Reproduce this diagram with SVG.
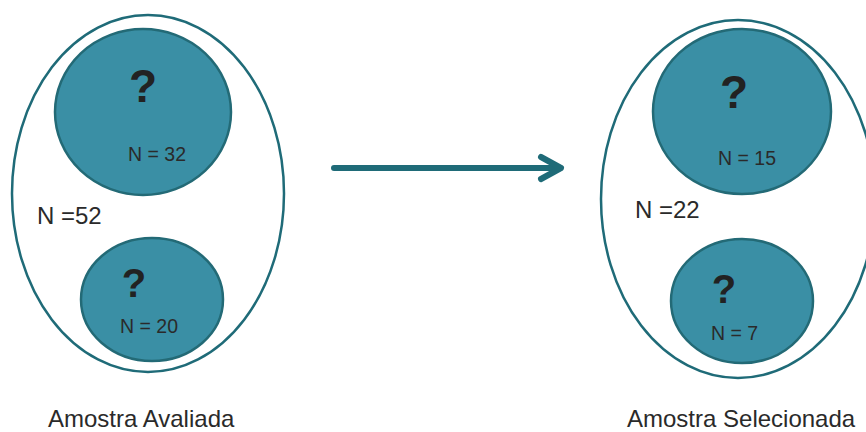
<svg xmlns="http://www.w3.org/2000/svg" width="866" height="432" viewBox="0 0 866 432">
<style>
.outer{fill:#ffffff;stroke:#1f6b78;stroke-width:2.5}
.inner{fill:#3a8fa5;stroke:#236a76;stroke-width:2.5}
.q{font-family:"Liberation Sans",Arial,sans-serif;font-weight:bold;fill:#222222;text-anchor:middle}
.n{font-family:"Liberation Sans",Arial,sans-serif;fill:#2a2a2a}
.lbl{font-family:"Liberation Sans",Arial,sans-serif;font-size:24px;fill:#2a2a2a}
.conn{fill:none;stroke:#1f6b78;stroke-width:6;stroke-linecap:round;stroke-linejoin:round}
</style>
<rect width="866" height="432" fill="#ffffff"/>
<g id="amostra-avaliada">
<ellipse class="outer" cx="148" cy="193.5" rx="136" ry="178.5"/>
<text class="n" x="37" y="224" font-size="24">N =52</text>
<text class="lbl" x="48" y="427">Amostra Avaliada</text>
</g>
<g id="avaliada-grupo1">
<ellipse class="inner" cx="143" cy="112" rx="88" ry="83"/>
<text class="q" x="143" y="102" font-size="46">?</text>
<text class="n" x="128" y="161" font-size="19.5">N = 32</text>
</g>
<g id="avaliada-grupo2">
<ellipse class="inner" cx="152" cy="299.5" rx="71" ry="61.5"/>
<text class="q" x="134" y="297" font-size="40">?</text>
<text class="n" x="120" y="333" font-size="19.5">N = 20</text>
</g>
<g id="amostra-selecionada">
<ellipse class="outer" cx="738" cy="199" rx="137" ry="179"/>
<text class="n" x="635" y="218" font-size="24">N =22</text>
<text class="lbl" x="627" y="427">Amostra Selecionada</text>
</g>
<g id="selecionada-grupo1">
<ellipse class="inner" cx="742" cy="111.5" rx="89" ry="82.5"/>
<text class="q" x="734" y="108" font-size="46">?</text>
<text class="n" x="718" y="165" font-size="19.5">N = 15</text>
</g>
<g id="selecionada-grupo2">
<ellipse class="inner" cx="742" cy="301" rx="71" ry="62"/>
<text class="q" x="724" y="303" font-size="40">?</text>
<text class="n" x="711" y="340" font-size="19.5">N = 7</text>
</g>
<g id="connectors">
<path class="conn" d="M334 168 H560"/>
<path class="conn" d="M541 157 L561 168 L541 179"/>
</g>
</svg>
